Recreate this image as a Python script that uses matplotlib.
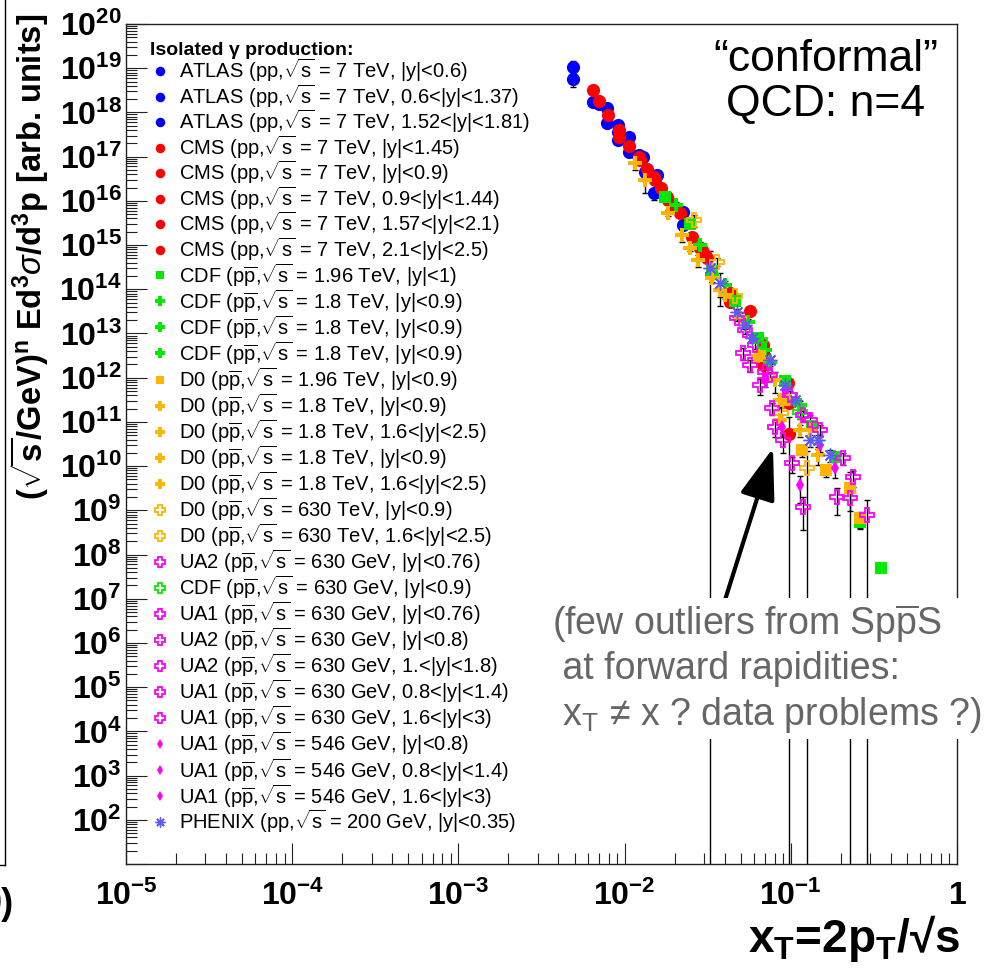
import numpy as np
import matplotlib
matplotlib.use('Agg')
import matplotlib.pyplot as plt
from matplotlib.lines import Line2D
from matplotlib.ticker import LogLocator, FuncFormatter, NullFormatter

plt.rcParams['font.family'] = ['Liberation Sans', 'DejaVu Sans']
plt.rcParams['mathtext.fontset'] = 'custom'
plt.rcParams['mathtext.rm'] = 'Liberation Sans'
plt.rcParams['mathtext.it'] = 'Liberation Sans:italic'
plt.rcParams['mathtext.bf'] = 'Liberation Sans:bold'

# ---- data: x_T, scaled invariant yield, relative error ----
atlas1_x = [4.90e-3, 7.83e-3, 9.12e-3, 1.06e-2, 1.22e-2, 1.57e-2, 2.24e-2]
atlas1_y = [1.07e19, 1.26e18, 5.2e17, 2.8e17, 1.1e17, 3.8e16, 5.6e15]
atlas1_e = [0.35, 0.1, 0.1, 0.1, 0.1, 0.1, 0.1]

atlas2_x = [4.90e-3, 6.41e-3, 7.83e-3, 9.12e-3, 1.06e-2, 1.29e-2, 1.50e-2, 2.24e-2]
atlas2_y = [5.7e18, 1.72e18, 5.8e17, 2.4e17, 1.26e17, 9.8e16, 1.5e16, 2.8e15]
atlas2_e = [0.35, 0.1, 0.1, 0.1, 0.1, 0.1, 0.3, 0.1]

atlas3_x = [7.02e-3, 9.12e-3, 1.33e-2]
atlas3_y = [1.55e18, 3.6e17, 4.5e16]
atlas3_e = [0.1, 0.1, 0.1]

cms1_x = [6.41e-3, 7.94e-3, 9.24e-3, 1.06e-2, 1.36e-2, 1.66e-2, 1.93e-2, 2.54e-2, 3.13e-2, 4.31e-2, 6.80e-2, 9.61e-2]
cms1_y = [3.2e18, 8.7e17, 4.0e17, 1.74e17, 5.3e16, 2.0e16, 8.0e15, 1.5e15, 5.1e14, 8.2e13, 5.5e12, 7.6e11]
cms1_e = [0.1, 0.1, 0.1, 0.1, 0.1, 0.1, 0.1, 0.1, 0.1, 0.15, 0.15, 0.2]

cms2_x = [7.02e-3, 9.24e-3, 1.22e-2, 1.50e-2, 1.80e-2, 2.15e-2, 2.92e-2, 4.31e-2, 6.80e-2, 9.75e-2]
cms2_y = [1.8e18, 2.8e17, 9.8e16, 3.5e16, 1.23e16, 5.3e15, 7.7e14, 5.1e13, 3.6e12, 2.7e11]
cms2_e = [0.1, 0.1, 0.1, 0.1, 0.1, 0.1, 0.1, 0.15, 0.15, 0.2]

cms3_x = [5.67e-2, 6.80e-2, 9.75e-2]
cms3_y = [3.2e13, 1.95e12, 5.2e10]
cms3_e = [0.15, 0.2, 1.5]

cms4_x = [1.24e-2, 1.82e-2, 3.05e-2]
cms4_y = [8.4e16, 1.05e16, 5.9e14]
cms4_e = [0.1, 0.1, 0.15]

cms5_x = [1.52e-2, 2.84e-2]
cms5_y = [3.0e16, 8.5e14]
cms5_e = [0.1, 0.15]

cdf196_x = [1.75e-2, 2.47e-2, 3.36e-2, 4.61e-2, 6.35e-2, 9.22e-2, 0.134, 0.1845, 0.261, 0.349]
cdf196_y = [1.25e16, 3.0e15, 2.6e14, 5.5e13, 8.0e12, 8.5e11, 8.0e10, 1.6e10, 5.4e8, 4.9e7]
cdf196_e = [0.1, 0.1, 0.1, 0.1, 0.1, 0.15, 0.2, 0.2, 0.3, 0.1]

cdf18a_x = [2.04e-2, 4.02e-2, 7.50e-2]
cdf18a_y = [8.0e15, 1.25e14, 2.25e12]
cdf18a_e = [0.2, 0.2, 0.2]

cdf18b_x = [2.84e-2, 5.52e-2, 0.1135]
cdf18b_y = [1.0e15, 1.8e13, 2.4e11]
cdf18b_e = [0.2, 0.2, 0.25]

cdf18c_x = [3.36e-2, 7.0e-2]
cdf18c_y = [2.1e14, 4.2e12]
cdf18c_e = [0.2, 0.2]

d0196_x = [6.53e-2, 9.22e-2, 0.1167, 0.163, 0.227, 0.261]
d0196_y = [3.1e12, 3.1e11, 2.3e10, 8.1e9, 3.2e9, 6.6e8]
d0196_e = [0.15, 0.2, 0.3, 0.3, 1.3, 0.4]

d018a_x = [1.16e-2, 1.82e-2, 2.47e-2, 4.02e-2, 6.35e-2, 0.1135]
d018a_y = [7.2e16, 5.3e15, 8.5e14, 7.4e13, 3.1e12, 6.5e10]
d018a_e = [0.3, 0.15, 0.15, 0.2, 0.2, 0.3]

d018b_x = [1.33e-2, 2.21e-2, 3.36e-2, 8.61e-2, 0.146]
d018b_y = [3.0e16, 1.7e15, 1.8e14, 1.1e11, 1.78e10]
d018b_e = [0.5, 0.3, 0.2, 0.3, 0.4]

d018c_x = [2.77e-2, 4.94e-2, 8.04e-2]
d018c_y = [4.6e14, 2.2e13, 8.9e11]
d018c_e = [0.3, 0.3, 0.5]

d018d_x = [3.75e-2, 8.61e-2, 0.1305]
d018d_y = [9.6e13, 3.1e11, 6.5e10]
d018d_e = [0.3, 0.3, 0.4]

d0630a_x = [2.62e-2, 3.60e-2, 8.73e-2]
d0630a_y = [3.7e15, 4.2e14, 1.58e11]
d0630a_e = [0.3, 0.2, 0.3]

d0630b_x = [4.61e-2, 0.125]
d0630b_y = [7.0e13, 9.0e9]
d0630b_e = [0.2, 1.5]

ua2a_x = [4.74e-2, 6.08e-2, 9.89e-2, 0.150, 0.206, 0.237]
ua2a_y = [2.2e13, 5.5e12, 4.1e11, 6.5e10, 1.5e10, 5.6e9]
ua2a_e = [0.15, 0.2, 0.2, 0.3, 0.3, 0.4]

cdf630_x = [6.53e-2, 0.1135]
cdf630_y = [7.1e12, 1.66e11]
cdf630_e = [0.2, 0.3]

ua1a_x = [5.30e-2, 7.5e-2, 0.1305, 0.227]
ua1a_y = [1.2e13, 1.15e12, 1.1e11, 1.9e9]
ua1a_e = [0.2, 0.2, 0.3, 0.5]

ua2b_x = [7.0e-2, 0.118, 0.190, 0.287]
ua2b_y = [1.35e12, 1.42e11, 2.0e9, 7.8e8]
ua2b_e = [0.2, 0.3, 0.6, 1.2]

ua2c_x = [5.15e-2, 7.70e-2, 0.1016]
ua2c_y = [3.6e12, 2.05e11, 1.17e10]
ua2c_e = [0.3, 0.3, 0.4]

ua1b_x = [5.67e-2, 8.04e-2, 0.118]
ua1b_y = [1.95e12, 7.6e10, 1.18e9]
ua1b_e = [0.3, 0.4, 0.7]

ua1c_x = [6.53e-2, 8.97e-2]
ua1c_y = [6.8e11, 3.9e10]
ua1c_e = [0.4, 0.5]

ua546a_x = [5.83e-2, 9.22e-2, 0.150]
ua546a_y = [7.9e12, 5.3e11, 3.0e10]
ua546a_e = [0.2, 0.3, 0.3]

ua546b_x = [7.0e-2, 8.85e-2]
ua546b_y = [8.9e11, 7.6e10]
ua546b_e = [0.3, 0.4]

ua546c_x = [0.1135, 0.1845]
ua546c_y = [3.7e9, 9.0e9]
ua546c_e = [0.6, 0.4]

phenix_x = [3.26e-2, 3.75e-2, 4.74e-2, 5.30e-2, 5.83e-2, 7.5e-2, 9.22e-2, 0.106, 0.1305, 0.146, 0.172]
phenix_y = [3.0e14, 1.4e14, 3.0e13, 1.55e13, 7.9e12, 2.5e12, 6.8e11, 3.1e11, 3.9e10, 3.9e10, 1.78e10]
phenix_e = [1.5, 0.7, 0.2, 0.2, 0.2, 0.2, 0.2, 0.2, 0.3, 0.3, 0.3]

PP = r'p$\overline{\rm p}$'
RS = r'$\sqrt{\rm s}$'

BLUE = '#0000ff'
RED = '#ff0000'
GREEN = '#00ea00'
ORANGE = '#ffb400'
MAGENTA = '#ff00ff'
PHX = '#5c5cf0'

# label, x, y, err, marker, colour, filled, size
series = [
    ('ATLAS (pp,' + RS + ' = 7 TeV, |y|<0.6)', atlas1_x, atlas1_y, atlas1_e, 'o', BLUE, True, 9.5),
    ('ATLAS (pp,' + RS + ' = 7 TeV, 0.6<|y|<1.37)', atlas2_x, atlas2_y, atlas2_e, 'o', BLUE, True, 9.5),
    ('ATLAS (pp,' + RS + ' = 7 TeV, 1.52<|y|<1.81)', atlas3_x, atlas3_y, atlas3_e, 'o', BLUE, True, 9.5),
    ('CMS (pp,' + RS + ' = 7 TeV, |y|<1.45)', cms1_x, cms1_y, cms1_e, 'o', RED, True, 9.5),
    ('CMS (pp,' + RS + ' = 7 TeV, |y|<0.9)', cms2_x, cms2_y, cms2_e, 'o', RED, True, 9.5),
    ('CMS (pp,' + RS + ' = 7 TeV, 0.9<|y|<1.44)', cms3_x, cms3_y, cms3_e, 'o', RED, True, 9.5),
    ('CMS (pp,' + RS + ' = 7 TeV, 1.57<|y|<2.1)', cms4_x, cms4_y, cms4_e, 'o', RED, True, 9.5),
    ('CMS (pp,' + RS + ' = 7 TeV, 2.1<|y|<2.5)', cms5_x, cms5_y, cms5_e, 'o', RED, True, 9.5),
    ('CDF (' + PP + ',' + RS + ' = 1.96 TeV, |y|<1)', cdf196_x, cdf196_y, cdf196_e, 's', GREEN, True, 8.5),
    ('CDF (' + PP + ',' + RS + ' = 1.8 TeV, |y|<0.9)', cdf18a_x, cdf18a_y, cdf18a_e, 'P', GREEN, True, 10),
    ('CDF (' + PP + ',' + RS + ' = 1.8 TeV, |y|<0.9)', cdf18b_x, cdf18b_y, cdf18b_e, 'P', GREEN, True, 10),
    ('CDF (' + PP + ',' + RS + ' = 1.8 TeV, |y|<0.9)', cdf18c_x, cdf18c_y, cdf18c_e, 'P', GREEN, True, 10),
    ('D0 (' + PP + ',' + RS + ' = 1.96 TeV, |y|<0.9)', d0196_x, d0196_y, d0196_e, 's', ORANGE, True, 8.5),
    ('D0 (' + PP + ',' + RS + ' = 1.8 TeV, |y|<0.9)', d018a_x, d018a_y, d018a_e, 'P', ORANGE, True, 10),
    ('D0 (' + PP + ',' + RS + ' = 1.8 TeV, 1.6<|y|<2.5)', d018b_x, d018b_y, d018b_e, 'P', ORANGE, True, 10),
    ('D0 (' + PP + ',' + RS + ' = 1.8 TeV, |y|<0.9)', d018c_x, d018c_y, d018c_e, 'P', ORANGE, True, 10),
    ('D0 (' + PP + ',' + RS + ' = 1.8 TeV, 1.6<|y|<2.5)', d018d_x, d018d_y, d018d_e, 'P', ORANGE, True, 10),
    ('D0 (' + PP + ',' + RS + ' = 630 TeV, |y|<0.9)', d0630a_x, d0630a_y, d0630a_e, 'P', ORANGE, False, 10),
    ('D0 (' + PP + ',' + RS + ' = 630 TeV, 1.6<|y|<2.5)', d0630b_x, d0630b_y, d0630b_e, 'P', ORANGE, False, 10),
    ('UA2 (' + PP + ',' + RS + ' = 630 GeV, |y|<0.76)', ua2a_x, ua2a_y, ua2a_e, 'P', MAGENTA, False, 10),
    ('CDF (' + PP + ',' + RS + ' = 630 GeV, |y|<0.9)', cdf630_x, cdf630_y, cdf630_e, 'P', GREEN, False, 10),
    ('UA1 (' + PP + ',' + RS + ' = 630 GeV, |y|<0.76)', ua1a_x, ua1a_y, ua1a_e, 'P', MAGENTA, False, 10),
    ('UA2 (' + PP + ',' + RS + ' = 630 GeV, |y|<0.8)', ua2b_x, ua2b_y, ua2b_e, 'P', MAGENTA, False, 10),
    ('UA2 (' + PP + ',' + RS + ' = 630 GeV, 1.<|y|<1.8)', ua2c_x, ua2c_y, ua2c_e, 'P', MAGENTA, False, 10),
    ('UA1 (' + PP + ',' + RS + ' = 630 GeV, 0.8<|y|<1.4)', ua1b_x, ua1b_y, ua1b_e, 'P', MAGENTA, False, 10),
    ('UA1 (' + PP + ',' + RS + ' = 630 GeV, 1.6<|y|<3)', ua1c_x, ua1c_y, ua1c_e, 'P', MAGENTA, False, 10),
    ('UA1 (' + PP + ',' + RS + ' = 546 GeV, |y|<0.8)', ua546a_x, ua546a_y, ua546a_e, 'd', MAGENTA, True, 7),
    ('UA1 (' + PP + ',' + RS + ' = 546 GeV, 0.8<|y|<1.4)', ua546b_x, ua546b_y, ua546b_e, 'd', MAGENTA, True, 7),
    ('UA1 (' + PP + ',' + RS + ' = 546 GeV, 1.6<|y|<3)', ua546c_x, ua546c_y, ua546c_e, 'd', MAGENTA, True, 7),
    ('PHENIX (pp,' + RS + ' = 200 GeV, |y|<0.35)', phenix_x, phenix_y, phenix_e, (8, 2, 0), PHX, True, 10),
]

fig = plt.figure(figsize=(9.86, 9.68), dpi=100)
ax = fig.add_axes([0.1278, 0.1074, 0.8428, 0.8678])
ax.set_xscale('log')
ax.set_yscale('log')

handles = []
labels = []
for lab, xs, ys, es, mk, col, filled, ms in series:
    xs = np.array(xs)
    ys = np.array(ys)
    es = np.array(es)
    ax.errorbar(xs, ys, yerr=ys * es, fmt='none', ecolor='black', elinewidth=1,
                capsize=2.5, capthick=1, zorder=2)
    if filled:
        h, = ax.plot(xs, ys, ls='none', marker=mk, ms=ms, color=col, mec=col,
                     mew=1.0 if mk == (8, 2, 0) else 0, zorder=3)
    else:
        h, = ax.plot(xs, ys, ls='none', marker=mk, ms=ms, color=col, mfc='none',
                     mec=col, mew=1.3, zorder=3)
    handles.append(h)
    labels.append(lab)

ax.set_xlim(1e-5, 1)
ax.set_ylim(10, 1e20)

ax.xaxis.set_major_locator(LogLocator(base=10, numticks=30))
ax.xaxis.set_minor_locator(LogLocator(base=10, subs=np.arange(2, 10), numticks=100))
ax.yaxis.set_major_locator(LogLocator(base=10, numticks=30))
ax.yaxis.set_minor_locator(LogLocator(base=10, subs=np.arange(2, 10), numticks=200))
ax.xaxis.set_minor_formatter(NullFormatter())
ax.yaxis.set_minor_formatter(NullFormatter())


def xfmt(v, pos):
    e = int(round(np.log10(v)))
    if e == 0:
        return r'$\mathbf{1}$'
    return r'$\mathbf{10^{%d}}$' % e


def yfmt(v, pos):
    e = int(round(np.log10(v)))
    if e < 2:
        return ''
    return r'$\mathbf{10^{%d}}$' % e


ax.xaxis.set_major_formatter(FuncFormatter(xfmt))
ax.yaxis.set_major_formatter(FuncFormatter(yfmt))
ax.tick_params(which='both', direction='in', top=False, right=False, width=0.8, color='#222222')
ax.tick_params(which='major', length=15, labelsize=23)
ax.tick_params(which='minor', length=8)
ax.tick_params(axis='x', which='major', pad=12)
ax.tick_params(axis='y', which='major', pad=3)
for sp in ax.spines.values():
    sp.set_linewidth(1.0)
    sp.set_color('#222222')

leg = ax.legend(handles, labels, loc='upper left', bbox_to_anchor=(0.029, 0.979),
                frameon=False, fontsize=14.5, title='Isolated γ production:',
                title_fontproperties={'weight': 'bold', 'size': 14}, alignment='left',
                handlelength=1.0, handletextpad=0.45, labelspacing=-0.085,
                borderpad=0, borderaxespad=0, markerscale=0.72)

ax.text(0.842, 0.931, '“conformal”\nQCD: n=4', transform=ax.transAxes,
        ha='center', va='center', fontsize=32, linespacing=1.1)

ax.annotate('', xy=(0.7786, 0.4952), xytext=(0.7208, 0.3143), xycoords='axes fraction',
            arrowprops=dict(arrowstyle='-|>,head_length=1.6,head_width=0.55', lw=3,
                            color='black', mutation_scale=20, shrinkA=0, shrinkB=0))

ax.text(0.5126, 0.3115,
        '(few outliers from Sp' + r'$\overline{\rm p}$' + 'S\n at forward rapidities:\n x' +
        r'$_{\rm T}$' + ' ≠ x ? data problems ?)',
        transform=ax.transAxes, ha='left', va='top', fontsize=27, color='#666666',
        linespacing=1.24, bbox=dict(fc='white', ec='none', pad=3), zorder=10, clip_on=False)

fig.text(30 / 986, 1 - 257 / 968,
         r'($\mathbf{\sqrt{s}}$/GeV)$^{\mathbf{n}}$ Ed$^{\mathbf{3}}\sigma$/d$^{\mathbf{3}}$p [arb. units]',
         rotation=90, ha='center', va='center', fontsize=23.5, weight='bold')
fig.text(960 / 986, 1 - 938 / 968, r'x$_{\mathbf{T}}$=2p$_{\mathbf{T}}$/√s',
         ha='right', va='center', fontsize=33, weight='bold')

# edge of the neighbouring panel
fig.add_artist(Line2D([5 / 986, 5 / 986], [1, 1 - 865 / 968], transform=fig.transFigure,
                      color='black', lw=1))
fig.add_artist(Line2D([0, 5 / 986], [1 - 865 / 968, 1 - 865 / 968], transform=fig.transFigure,
                      color='black', lw=1))
fig.text(14 / 986, 1 - 905 / 968, '0)', ha='right', va='center', fontsize=26, weight='bold')

fig.savefig('out.png', dpi=100)
